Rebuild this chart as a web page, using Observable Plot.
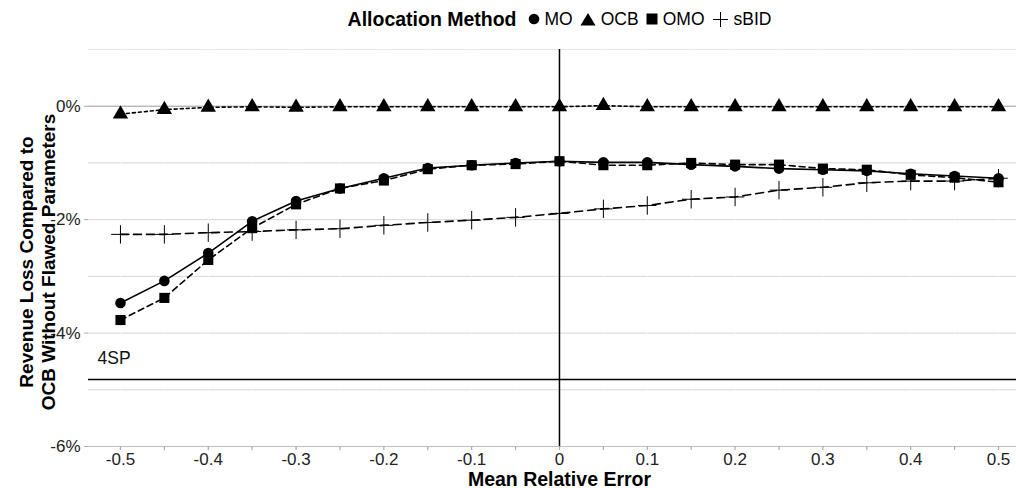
<!DOCTYPE html>
<html>
<head>
<meta charset="utf-8">
<script src="https://cdn.jsdelivr.net/npm/d3@7"></script>
<script src="https://cdn.jsdelivr.net/npm/@observablehq/plot@0.6"></script>
<style>
  html, body { margin: 0; padding: 0; background: #fff; }
  body { width: 1016px; height: 488px; overflow: hidden; font-family: "Liberation Sans", Arial, sans-serif; }
  #legend { height: 36px; display: flex; align-items: center; justify-content: center; padding-left: 110px; padding-top: 2px; box-sizing: border-box; color: #000; }
  #legend .title { font-weight: bold; font-size: 19.5px; margin-right: 11px; }
  #legend .item { display: flex; align-items: center; font-size: 17.5px; margin-right: 7px; }
  #legend svg { margin-right: 5px; }
</style>
</head>
<body>
<div id="legend"></div>
<div id="chart"></div>
<script>
// ---- data ----
const xValues = [-0.5, -0.45, -0.4, -0.35, -0.3, -0.25, -0.2, -0.15, -0.1, -0.05, 0, 0.05, 0.1, 0.15, 0.2, 0.25, 0.3, 0.35, 0.4, 0.45, 0.5];
const methods = ["MO", "OCB", "OMO", "sBID"];
const moValues   = [-3.47, -3.08, -2.59, -2.03, -1.67, -1.45, -1.27, -1.09, -1.04, -1.00, -0.97, -0.99, -0.99, -1.03, -1.06, -1.10, -1.12, -1.14, -1.19, -1.23, -1.27];
const ocbValues  = [-0.14, -0.06, -0.02, -0.01, -0.02, -0.01, -0.01, -0.01, -0.01, -0.01, -0.01, 0.01, -0.01, -0.01, -0.01, -0.01, -0.01, -0.01, -0.01, -0.01, -0.01];
const omoValues  = [-3.77, -3.38, -2.71, -2.15, -1.73, -1.45, -1.31, -1.11, -1.04, -1.02, -0.97, -1.04, -1.04, -1.00, -1.03, -1.03, -1.10, -1.12, -1.21, -1.26, -1.34];
const sbidValues = [-2.26, -2.26, -2.23, -2.21, -2.18, -2.16, -2.10, -2.05, -2.01, -1.96, -1.89, -1.81, -1.75, -1.64, -1.60, -1.48, -1.43, -1.35, -1.32, -1.32, -1.27];
const xTickLabels = [-0.5, -0.4, -0.3, -0.2, -0.1, 0, 0.1, 0.2, 0.3, 0.4, 0.5];
const xMinorTicks = [-0.5, -0.45, -0.4, -0.35, -0.3, -0.25, -0.2, -0.15, -0.1, -0.05, 0, 0.05, 0.1, 0.15, 0.2, 0.25, 0.3, 0.35, 0.4, 0.45, 0.5];
const yTickLabels = [0, -2, -4, -6];
const yGridLines = [-1, -2, -3, -4, -5];
const yTopGrid = [1];
const yZeroLine = [0];
const yBottomLine = [-6];
const refLines = [{label: "4SP", value: -4.82}];
const xRefLine = [0];

// ---- styles per method ----
const symbols = {MO: "circle", OCB: "triangle", OMO: "square", sBID: "plus"};
const dashes = {MO: null, OCB: "3,3", OMO: "6,4", sBID: "8,5"};
const radius = {MO: 5.3, OCB: 5.7, OMO: 5.7, sBID: 6.0};

const seriesValues = {MO: moValues, OCB: ocbValues, OMO: omoValues, sBID: sbidValues};
const data = methods.flatMap(m => xValues.map((x, i) => ({method: m, x, y: seriesValues[m][i]})));

// ---- legend ----
const legend = document.getElementById("legend");
legend.innerHTML = `<span class="title">Allocation Method</span>` +
  `<span class="item"><svg width="12" height="12"><circle cx="6" cy="6" r="5.3" fill="#000"/></svg>MO</span>` +
  `<span class="item"><svg width="16" height="14"><path d="M8,1 L15.5,13.5 L0.5,13.5 Z" fill="#000"/></svg>OCB</span>` +
  `<span class="item"><svg width="12" height="12"><rect x="0.5" y="0.5" width="11" height="11" fill="#000"/></svg>OMO</span>` +
  `<span class="item"><svg width="17" height="17"><path d="M8.5,1 V16 M1,8.5 H16" stroke="#000" stroke-width="1" fill="none"/></svg>sBID</span>`;

// ---- chart ----
const marks = [
  Plot.ruleY(yGridLines, {stroke: "#d6d6d6", strokeWidth: 1}),
  Plot.ruleY(yTopGrid, {stroke: "#e8e8e8", strokeWidth: 1}),
  Plot.ruleY(yBottomLine, {stroke: "#bdbdbd", strokeWidth: 1}),
  Plot.ruleY(yZeroLine, {stroke: "#9a9a9a", strokeWidth: 1}),
  Plot.ruleX(xMinorTicks, {stroke: "#fff", strokeWidth: 0.6}),
  // tick marks
  Plot.axisY(yTickLabels, {tickFormat: () => "", tickSize: 4, stroke: "#aaa", label: null}),
  Plot.axisX(xMinorTicks, {tickFormat: () => "", tickSize: 4, stroke: "#aaa", strokeWidth: 1.2, label: null}),
  // tick labels
  Plot.text(yTickLabels, {y: d => d, text: d => d + "%", frameAnchor: "left", textAnchor: "end", lineAnchor: "middle", dx: -8, fontSize: 17, fill: "#222"}),
  Plot.text(xTickLabels, {x: d => d, text: d => d === 0 ? "0" : d.toFixed(1), frameAnchor: "bottom", textAnchor: "middle", lineAnchor: "top", dy: 6, fontSize: 17, fill: "#222"}),
  Plot.ruleX(xRefLine, {stroke: "#000", strokeWidth: 1.5}),
  Plot.ruleY(refLines, {y: "value", stroke: "#000", strokeWidth: 1.5}),
  Plot.text(refLines, {y: "value", text: "label", frameAnchor: "left", dx: 9, dy: -21, textAnchor: "start", fontSize: 17.5, fill: "#111"}),
  ...methods.map(m => Plot.line(data.filter(d => d.method === m), {x: "x", y: "y", stroke: "#000", strokeWidth: 1.6, strokeDasharray: dashes[m]})),
  ...methods.map(m => Plot.dot(data.filter(d => d.method === m), {
    x: "x", y: "y", symbol: () => symbols[m], r: radius[m],
    fill: m === "sBID" ? "none" : "#000",
    stroke: m === "sBID" ? "#000" : "none",
    strokeWidth: 1
  })),
  Plot.text(["Revenue Loss Compared to\nOCB Without Flawed Parameters"], {frameAnchor: "left", textAnchor: "middle", lineAnchor: "middle", rotate: -90, dx: -52, dy: 14, fontSize: 19, fontWeight: "bold", lineHeight: 1.17, fill: "#000"}),
  Plot.text(["Mean Relative Error"], {frameAnchor: "bottom", dy: 39, dx: 7, fontSize: 19.5, fontWeight: "bold", fill: "#000"})
];

const chart = Plot.plot({
  width: 1016,
  height: 452,
  marginLeft: 88,
  marginRight: 0,
  marginTop: 13,
  marginBottom: 42,
  style: {fontFamily: "'Liberation Sans', Arial, sans-serif", background: "#fff", overflow: "visible"},
  x: {domain: [-0.5364, 0.5205]},
  y: {domain: [-6, 1]},
  symbol: {type: "identity"},
  marks
});
document.getElementById("chart").appendChild(chart);
</script>
</body>
</html>
